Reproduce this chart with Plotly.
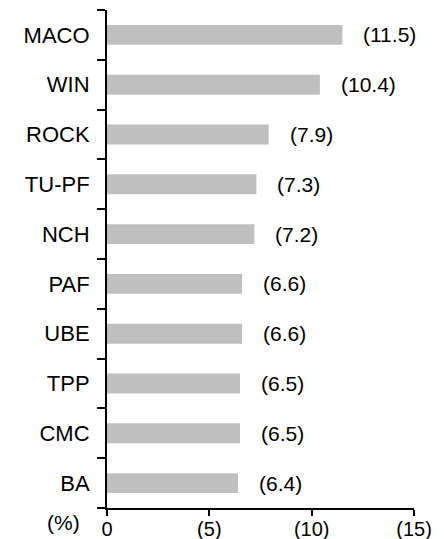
import plotly.graph_objects as go

categories = ["MACO", "WIN", "ROCK", "TU-PF", "NCH", "PAF", "UBE", "TPP", "CMC", "BA"]
values = [11.5, 10.4, 7.9, 7.3, 7.2, 6.6, 6.6, 6.5, 6.5, 6.4]
value_labels = ["(11.5)", "(10.4)", "(7.9)", "(7.3)", "(7.2)", "(6.6)", "(6.6)", "(6.5)", "(6.5)", "(6.4)"]
x_tickvals = [0, 5, 10, 15]
x_ticktext = ["0", "(5)", "(10)", "(15)"]

FONT = "Liberation Sans, Arial, sans-serif"
FS = 21

fig = go.Figure()
fig.add_trace(go.Bar(
    x=values, y=categories, orientation="h",
    marker=dict(color="#BFBFBF", line=dict(width=0)),
    width=0.4,
))

for c, v, t in zip(categories, values, value_labels):
    fig.add_annotation(x=v, y=c, text=t, showarrow=False, xanchor="left",
                       yanchor="middle", xshift=19, font=dict(size=FS, color="black", family=FONT))

fig.add_annotation(xref="paper", yref="paper", x=-0.143, y=-0.03, text="(%)",
                   showarrow=False, xanchor="center", yanchor="middle",
                   font=dict(size=FS, color="black", family=FONT))

# page body has an 8px default margin, so size the figure to fit the window
fig.update_layout(
    width=436, height=531,
    margin=dict(l=99, r=30, t=2, b=31),
    plot_bgcolor="white", paper_bgcolor="white",
    showlegend=False,
    font=dict(family=FONT, size=FS, color="black"),
    xaxis=dict(range=[0, 15], tickvals=x_tickvals, ticktext=x_ticktext,
               showgrid=False, zeroline=False, showline=True, linecolor="black",
               linewidth=2, ticks="outside", ticklen=6, tickwidth=2, tickcolor="black",
               tickfont=dict(size=20), ticklabelstandoff=-4,
               automargin=False, fixedrange=True),
    yaxis=dict(categoryorder="array", categoryarray=categories[::-1],
               range=[-0.5, 9.5], showgrid=False, zeroline=False, showline=True,
               linecolor="black", linewidth=2, ticks="outside", ticklen=8, tickwidth=2,
               tickcolor="black", tickson="boundaries", tickfont=dict(size=22),
               ticklabelstandoff=11, automargin=False, fixedrange=True),
)

fig.write_html("out.html")
